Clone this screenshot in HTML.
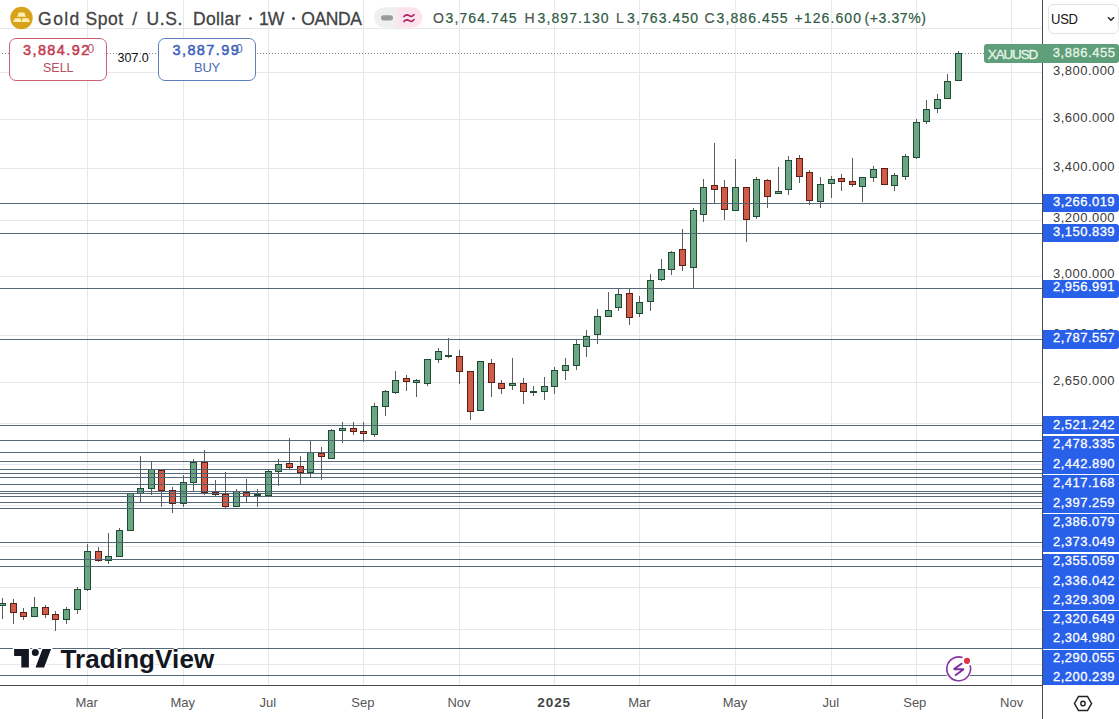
<!DOCTYPE html>
<html><head><meta charset="utf-8">
<style>
*{margin:0;padding:0;box-sizing:border-box}
html,body{width:1119px;height:719px;overflow:hidden;background:#fff;font-family:"Liberation Sans",sans-serif}
#c{position:absolute;left:0;top:0}
.abs{position:absolute;white-space:nowrap}
.pl{position:absolute;left:1043px;width:72px;text-align:right;font-size:13px;line-height:16px;color:#3a3a3a;letter-spacing:0.45px}
.bx{position:absolute;left:1043px;width:76px;background:#2860ea}
.bt{position:absolute;left:1043px;width:72px;text-align:right;font-size:13px;line-height:16px;color:#fff;letter-spacing:0.45px;-webkit-text-stroke:0.3px #fff;white-space:nowrap}
.bl{position:absolute;left:1043px;width:76px;background:#2860ea;-webkit-text-stroke:0.3px #fff;color:#fff;font-size:13px;text-align:right;padding-right:4px;border-radius:0 3px 3px 0;letter-spacing:0.45px}
.bg{position:absolute;left:1043px;width:76px;background:#2860ea;-webkit-text-stroke:0.3px #fff;color:#fff;font-size:13px;text-align:right;padding-right:4px;letter-spacing:0.45px}
.tl{position:absolute;top:695px;width:80px;text-align:center;font-size:13px;line-height:16px;color:#555}
.ohlc{position:absolute;top:9px;font-size:14px;line-height:18px;color:#2f5a43;letter-spacing:1.1px;white-space:nowrap;-webkit-text-stroke:0.2px #2f5a43}
.ttl{position:absolute;top:8px;font-size:17.5px;line-height:22px;color:#434343;white-space:nowrap;-webkit-text-stroke:0.3px #434343}
.yr{font-weight:bold;color:#444;font-size:13.5px;letter-spacing:0.9px;top:694.5px}
</style></head><body>
<svg id="c" width="1119" height="719" shape-rendering="crispEdges">
<rect x="87" y="0" width="1" height="685" fill="#e7e8eb"/>
<rect x="183" y="0" width="1" height="685" fill="#e7e8eb"/>
<rect x="268" y="0" width="1" height="685" fill="#e7e8eb"/>
<rect x="363" y="0" width="1" height="685" fill="#e7e8eb"/>
<rect x="459" y="0" width="1" height="685" fill="#e7e8eb"/>
<rect x="554" y="0" width="1" height="685" fill="#e7e8eb"/>
<rect x="639" y="0" width="1" height="685" fill="#e7e8eb"/>
<rect x="735" y="0" width="1" height="685" fill="#e7e8eb"/>
<rect x="831" y="0" width="1" height="685" fill="#e7e8eb"/>
<rect x="916" y="0" width="1" height="685" fill="#e7e8eb"/>
<rect x="1011" y="0" width="1" height="685" fill="#e7e8eb"/>
<rect x="0" y="28" width="1042" height="1" fill="#e7e8eb"/>
<rect x="0" y="72" width="1042" height="1" fill="#e7e8eb"/>
<rect x="0" y="119" width="1042" height="1" fill="#e7e8eb"/>
<rect x="0" y="168" width="1042" height="1" fill="#e7e8eb"/>
<rect x="0" y="220" width="1042" height="1" fill="#e7e8eb"/>
<rect x="0" y="276" width="1042" height="1" fill="#e7e8eb"/>
<rect x="0" y="335" width="1042" height="1" fill="#e7e8eb"/>
<rect x="0" y="382" width="1042" height="1" fill="#e7e8eb"/>
<rect x="0" y="423" width="1042" height="1" fill="#e7e8eb"/>
<rect x="0" y="464" width="1042" height="1" fill="#e7e8eb"/>
<rect x="0" y="505" width="1042" height="1" fill="#e7e8eb"/>
<rect x="0" y="546" width="1042" height="1" fill="#e7e8eb"/>
<rect x="0" y="587" width="1042" height="1" fill="#e7e8eb"/>
<rect x="0" y="629" width="1042" height="1" fill="#e7e8eb"/>
<rect x="0" y="664" width="1042" height="1" fill="#e7e8eb"/>
<line x1="-1" y1="53.5" x2="984" y2="53.5" stroke="#8a8a8a" stroke-width="1" stroke-dasharray="1 2"/>
<rect x="2" y="598" width="1" height="21" fill="#5d5d5d"/>
<rect x="13" y="599" width="1" height="25" fill="#5d5d5d"/>
<rect x="23" y="608" width="1" height="12" fill="#5d5d5d"/>
<rect x="34" y="597" width="1" height="20" fill="#5d5d5d"/>
<rect x="45" y="605" width="1" height="13" fill="#5d5d5d"/>
<rect x="55" y="611" width="1" height="20" fill="#5d5d5d"/>
<rect x="66" y="607" width="1" height="17" fill="#5d5d5d"/>
<rect x="77" y="587" width="1" height="27" fill="#5d5d5d"/>
<rect x="87" y="544" width="1" height="47" fill="#5d5d5d"/>
<rect x="98" y="547" width="1" height="15" fill="#5d5d5d"/>
<rect x="108" y="533" width="1" height="31" fill="#5d5d5d"/>
<rect x="119" y="528" width="1" height="29" fill="#5d5d5d"/>
<rect x="130" y="493" width="1" height="38" fill="#5d5d5d"/>
<rect x="140" y="456" width="1" height="47" fill="#5d5d5d"/>
<rect x="151" y="462" width="1" height="33" fill="#5d5d5d"/>
<rect x="161" y="470" width="1" height="37" fill="#5d5d5d"/>
<rect x="172" y="487" width="1" height="26" fill="#5d5d5d"/>
<rect x="183" y="475" width="1" height="32" fill="#5d5d5d"/>
<rect x="193" y="459" width="1" height="32" fill="#5d5d5d"/>
<rect x="204" y="450" width="1" height="45" fill="#5d5d5d"/>
<rect x="215" y="480" width="1" height="16" fill="#5d5d5d"/>
<rect x="225" y="472" width="1" height="36" fill="#5d5d5d"/>
<rect x="236" y="489" width="1" height="18" fill="#5d5d5d"/>
<rect x="246" y="479" width="1" height="24" fill="#5d5d5d"/>
<rect x="257" y="489" width="1" height="18" fill="#5d5d5d"/>
<rect x="268" y="469" width="1" height="27" fill="#5d5d5d"/>
<rect x="278" y="459" width="1" height="27" fill="#5d5d5d"/>
<rect x="289" y="438" width="1" height="31" fill="#5d5d5d"/>
<rect x="300" y="456" width="1" height="28" fill="#5d5d5d"/>
<rect x="310" y="441" width="1" height="37" fill="#5d5d5d"/>
<rect x="321" y="447" width="1" height="33" fill="#5d5d5d"/>
<rect x="331" y="429" width="1" height="30" fill="#5d5d5d"/>
<rect x="342" y="422" width="1" height="21" fill="#5d5d5d"/>
<rect x="353" y="422" width="1" height="13" fill="#5d5d5d"/>
<rect x="363" y="422" width="1" height="20" fill="#5d5d5d"/>
<rect x="374" y="403" width="1" height="34" fill="#5d5d5d"/>
<rect x="385" y="390" width="1" height="26" fill="#5d5d5d"/>
<rect x="395" y="371" width="1" height="23" fill="#5d5d5d"/>
<rect x="406" y="375" width="1" height="16" fill="#5d5d5d"/>
<rect x="416" y="379" width="1" height="18" fill="#5d5d5d"/>
<rect x="427" y="359" width="1" height="27" fill="#5d5d5d"/>
<rect x="438" y="348" width="1" height="15" fill="#5d5d5d"/>
<rect x="448" y="338" width="1" height="20" fill="#5d5d5d"/>
<rect x="459" y="350" width="1" height="34" fill="#5d5d5d"/>
<rect x="470" y="371" width="1" height="49" fill="#5d5d5d"/>
<rect x="480" y="361" width="1" height="50" fill="#5d5d5d"/>
<rect x="491" y="359" width="1" height="38" fill="#5d5d5d"/>
<rect x="501" y="380" width="1" height="14" fill="#5d5d5d"/>
<rect x="512" y="358" width="1" height="32" fill="#5d5d5d"/>
<rect x="523" y="378" width="1" height="26" fill="#5d5d5d"/>
<rect x="533" y="386" width="1" height="10" fill="#5d5d5d"/>
<rect x="544" y="377" width="1" height="23" fill="#5d5d5d"/>
<rect x="554" y="367" width="1" height="27" fill="#5d5d5d"/>
<rect x="565" y="358" width="1" height="22" fill="#5d5d5d"/>
<rect x="576" y="340" width="1" height="30" fill="#5d5d5d"/>
<rect x="586" y="330" width="1" height="27" fill="#5d5d5d"/>
<rect x="597" y="309" width="1" height="35" fill="#5d5d5d"/>
<rect x="608" y="292" width="1" height="25" fill="#5d5d5d"/>
<rect x="618" y="289" width="1" height="22" fill="#5d5d5d"/>
<rect x="629" y="289" width="1" height="36" fill="#5d5d5d"/>
<rect x="639" y="296" width="1" height="21" fill="#5d5d5d"/>
<rect x="650" y="274" width="1" height="37" fill="#5d5d5d"/>
<rect x="661" y="259" width="1" height="22" fill="#5d5d5d"/>
<rect x="671" y="251" width="1" height="24" fill="#5d5d5d"/>
<rect x="682" y="229" width="1" height="42" fill="#5d5d5d"/>
<rect x="693" y="208" width="1" height="81" fill="#5d5d5d"/>
<rect x="703" y="179" width="1" height="43" fill="#5d5d5d"/>
<rect x="714" y="143" width="1" height="60" fill="#5d5d5d"/>
<rect x="724" y="180" width="1" height="40" fill="#5d5d5d"/>
<rect x="735" y="159" width="1" height="52" fill="#5d5d5d"/>
<rect x="746" y="187" width="1" height="55" fill="#5d5d5d"/>
<rect x="756" y="177" width="1" height="42" fill="#5d5d5d"/>
<rect x="767" y="179" width="1" height="29" fill="#5d5d5d"/>
<rect x="778" y="167" width="1" height="27" fill="#5d5d5d"/>
<rect x="788" y="156" width="1" height="39" fill="#5d5d5d"/>
<rect x="799" y="155" width="1" height="28" fill="#5d5d5d"/>
<rect x="809" y="170" width="1" height="35" fill="#5d5d5d"/>
<rect x="820" y="177" width="1" height="31" fill="#5d5d5d"/>
<rect x="831" y="176" width="1" height="22" fill="#5d5d5d"/>
<rect x="841" y="174" width="1" height="17" fill="#5d5d5d"/>
<rect x="852" y="158" width="1" height="29" fill="#5d5d5d"/>
<rect x="862" y="177" width="1" height="25" fill="#5d5d5d"/>
<rect x="873" y="166" width="1" height="16" fill="#5d5d5d"/>
<rect x="884" y="168" width="1" height="17" fill="#5d5d5d"/>
<rect x="894" y="173" width="1" height="18" fill="#5d5d5d"/>
<rect x="905" y="154" width="1" height="26" fill="#5d5d5d"/>
<rect x="916" y="119" width="1" height="40" fill="#5d5d5d"/>
<rect x="926" y="100" width="1" height="24" fill="#5d5d5d"/>
<rect x="937" y="94" width="1" height="19" fill="#5d5d5d"/>
<rect x="947" y="74" width="1" height="25" fill="#5d5d5d"/>
<rect x="958" y="51" width="1" height="30" fill="#5d5d5d"/>
<rect x="-1" y="603" width="7" height="3" fill="#1f4a34"/>
<rect x="0" y="604" width="5" height="1" fill="#6ba584"/>
<rect x="10" y="603" width="7" height="10" fill="#5c1e15"/>
<rect x="11" y="604" width="5" height="8" fill="#cf5b49"/>
<rect x="20" y="612" width="7" height="5" fill="#5c1e15"/>
<rect x="21" y="613" width="5" height="3" fill="#cf5b49"/>
<rect x="31" y="607" width="7" height="10" fill="#1f4a34"/>
<rect x="32" y="608" width="5" height="8" fill="#6ba584"/>
<rect x="42" y="607" width="7" height="8" fill="#5c1e15"/>
<rect x="43" y="608" width="5" height="6" fill="#cf5b49"/>
<rect x="52" y="614" width="7" height="6" fill="#5c1e15"/>
<rect x="53" y="615" width="5" height="4" fill="#cf5b49"/>
<rect x="63" y="609" width="7" height="11" fill="#1f4a34"/>
<rect x="64" y="610" width="5" height="9" fill="#6ba584"/>
<rect x="74" y="589" width="7" height="21" fill="#1f4a34"/>
<rect x="75" y="590" width="5" height="19" fill="#6ba584"/>
<rect x="84" y="551" width="7" height="39" fill="#1f4a34"/>
<rect x="85" y="552" width="5" height="37" fill="#6ba584"/>
<rect x="95" y="551" width="7" height="10" fill="#5c1e15"/>
<rect x="96" y="552" width="5" height="8" fill="#cf5b49"/>
<rect x="105" y="556" width="7" height="5" fill="#1f4a34"/>
<rect x="106" y="557" width="5" height="3" fill="#6ba584"/>
<rect x="116" y="530" width="7" height="27" fill="#1f4a34"/>
<rect x="117" y="531" width="5" height="25" fill="#6ba584"/>
<rect x="127" y="493" width="7" height="38" fill="#1f4a34"/>
<rect x="128" y="494" width="5" height="36" fill="#6ba584"/>
<rect x="137" y="488" width="7" height="6" fill="#1f4a34"/>
<rect x="138" y="489" width="5" height="4" fill="#6ba584"/>
<rect x="148" y="469" width="7" height="20" fill="#1f4a34"/>
<rect x="149" y="470" width="5" height="18" fill="#6ba584"/>
<rect x="158" y="470" width="7" height="21" fill="#5c1e15"/>
<rect x="159" y="471" width="5" height="19" fill="#cf5b49"/>
<rect x="169" y="490" width="7" height="14" fill="#5c1e15"/>
<rect x="170" y="491" width="5" height="12" fill="#cf5b49"/>
<rect x="180" y="482" width="7" height="22" fill="#1f4a34"/>
<rect x="181" y="483" width="5" height="20" fill="#6ba584"/>
<rect x="190" y="462" width="7" height="21" fill="#1f4a34"/>
<rect x="191" y="463" width="5" height="19" fill="#6ba584"/>
<rect x="201" y="462" width="7" height="31" fill="#5c1e15"/>
<rect x="202" y="463" width="5" height="29" fill="#cf5b49"/>
<rect x="212" y="492" width="7" height="3" fill="#5c1e15"/>
<rect x="213" y="493" width="5" height="1" fill="#cf5b49"/>
<rect x="222" y="494" width="7" height="13" fill="#5c1e15"/>
<rect x="223" y="495" width="5" height="11" fill="#cf5b49"/>
<rect x="233" y="491" width="7" height="16" fill="#1f4a34"/>
<rect x="234" y="492" width="5" height="14" fill="#6ba584"/>
<rect x="243" y="492" width="7" height="5" fill="#5c1e15"/>
<rect x="244" y="493" width="5" height="3" fill="#cf5b49"/>
<rect x="254" y="494" width="7" height="2" fill="#1f4a34"/>
<rect x="265" y="471" width="7" height="25" fill="#1f4a34"/>
<rect x="266" y="472" width="5" height="23" fill="#6ba584"/>
<rect x="275" y="464" width="7" height="8" fill="#1f4a34"/>
<rect x="276" y="465" width="5" height="6" fill="#6ba584"/>
<rect x="286" y="463" width="7" height="5" fill="#5c1e15"/>
<rect x="287" y="464" width="5" height="3" fill="#cf5b49"/>
<rect x="297" y="466" width="7" height="7" fill="#5c1e15"/>
<rect x="298" y="467" width="5" height="5" fill="#cf5b49"/>
<rect x="307" y="452" width="7" height="21" fill="#1f4a34"/>
<rect x="308" y="453" width="5" height="19" fill="#6ba584"/>
<rect x="318" y="453" width="7" height="4" fill="#5c1e15"/>
<rect x="319" y="454" width="5" height="2" fill="#cf5b49"/>
<rect x="328" y="430" width="7" height="29" fill="#1f4a34"/>
<rect x="329" y="431" width="5" height="27" fill="#6ba584"/>
<rect x="339" y="428" width="7" height="3" fill="#1f4a34"/>
<rect x="340" y="429" width="5" height="1" fill="#6ba584"/>
<rect x="350" y="428" width="7" height="4" fill="#5c1e15"/>
<rect x="351" y="429" width="5" height="2" fill="#cf5b49"/>
<rect x="360" y="431" width="7" height="3" fill="#5c1e15"/>
<rect x="361" y="432" width="5" height="1" fill="#cf5b49"/>
<rect x="371" y="406" width="7" height="29" fill="#1f4a34"/>
<rect x="372" y="407" width="5" height="27" fill="#6ba584"/>
<rect x="382" y="391" width="7" height="16" fill="#1f4a34"/>
<rect x="383" y="392" width="5" height="14" fill="#6ba584"/>
<rect x="392" y="380" width="7" height="13" fill="#1f4a34"/>
<rect x="393" y="381" width="5" height="11" fill="#6ba584"/>
<rect x="403" y="378" width="7" height="4" fill="#5c1e15"/>
<rect x="404" y="379" width="5" height="2" fill="#cf5b49"/>
<rect x="413" y="380" width="7" height="3" fill="#1f4a34"/>
<rect x="414" y="381" width="5" height="1" fill="#6ba584"/>
<rect x="424" y="359" width="7" height="25" fill="#1f4a34"/>
<rect x="425" y="360" width="5" height="23" fill="#6ba584"/>
<rect x="435" y="351" width="7" height="9" fill="#1f4a34"/>
<rect x="436" y="352" width="5" height="7" fill="#6ba584"/>
<rect x="445" y="355" width="7" height="2" fill="#1f4a34"/>
<rect x="456" y="356" width="7" height="16" fill="#5c1e15"/>
<rect x="457" y="357" width="5" height="14" fill="#cf5b49"/>
<rect x="467" y="371" width="7" height="41" fill="#5c1e15"/>
<rect x="468" y="372" width="5" height="39" fill="#cf5b49"/>
<rect x="477" y="361" width="7" height="50" fill="#1f4a34"/>
<rect x="478" y="362" width="5" height="48" fill="#6ba584"/>
<rect x="488" y="363" width="7" height="20" fill="#5c1e15"/>
<rect x="489" y="364" width="5" height="18" fill="#cf5b49"/>
<rect x="498" y="383" width="7" height="6" fill="#5c1e15"/>
<rect x="499" y="384" width="5" height="4" fill="#cf5b49"/>
<rect x="509" y="383" width="7" height="3" fill="#1f4a34"/>
<rect x="510" y="384" width="5" height="1" fill="#6ba584"/>
<rect x="520" y="383" width="7" height="9" fill="#5c1e15"/>
<rect x="521" y="384" width="5" height="7" fill="#cf5b49"/>
<rect x="530" y="391" width="7" height="2" fill="#1f4a34"/>
<rect x="541" y="386" width="7" height="6" fill="#1f4a34"/>
<rect x="542" y="387" width="5" height="4" fill="#6ba584"/>
<rect x="551" y="370" width="7" height="17" fill="#1f4a34"/>
<rect x="552" y="371" width="5" height="15" fill="#6ba584"/>
<rect x="562" y="365" width="7" height="6" fill="#1f4a34"/>
<rect x="563" y="366" width="5" height="4" fill="#6ba584"/>
<rect x="573" y="344" width="7" height="22" fill="#1f4a34"/>
<rect x="574" y="345" width="5" height="20" fill="#6ba584"/>
<rect x="583" y="336" width="7" height="11" fill="#1f4a34"/>
<rect x="584" y="337" width="5" height="9" fill="#6ba584"/>
<rect x="594" y="316" width="7" height="19" fill="#1f4a34"/>
<rect x="595" y="317" width="5" height="17" fill="#6ba584"/>
<rect x="605" y="310" width="7" height="7" fill="#1f4a34"/>
<rect x="606" y="311" width="5" height="5" fill="#6ba584"/>
<rect x="615" y="294" width="7" height="14" fill="#1f4a34"/>
<rect x="616" y="295" width="5" height="12" fill="#6ba584"/>
<rect x="626" y="293" width="7" height="25" fill="#5c1e15"/>
<rect x="627" y="294" width="5" height="23" fill="#cf5b49"/>
<rect x="636" y="302" width="7" height="12" fill="#1f4a34"/>
<rect x="637" y="303" width="5" height="10" fill="#6ba584"/>
<rect x="647" y="280" width="7" height="22" fill="#1f4a34"/>
<rect x="648" y="281" width="5" height="20" fill="#6ba584"/>
<rect x="658" y="269" width="7" height="11" fill="#1f4a34"/>
<rect x="659" y="270" width="5" height="9" fill="#6ba584"/>
<rect x="668" y="252" width="7" height="18" fill="#1f4a34"/>
<rect x="669" y="253" width="5" height="16" fill="#6ba584"/>
<rect x="679" y="249" width="7" height="17" fill="#5c1e15"/>
<rect x="680" y="250" width="5" height="15" fill="#cf5b49"/>
<rect x="690" y="210" width="7" height="58" fill="#1f4a34"/>
<rect x="691" y="211" width="5" height="56" fill="#6ba584"/>
<rect x="700" y="187" width="7" height="28" fill="#1f4a34"/>
<rect x="701" y="188" width="5" height="26" fill="#6ba584"/>
<rect x="711" y="185" width="7" height="5" fill="#5c1e15"/>
<rect x="712" y="186" width="5" height="3" fill="#cf5b49"/>
<rect x="721" y="187" width="7" height="23" fill="#5c1e15"/>
<rect x="722" y="188" width="5" height="21" fill="#cf5b49"/>
<rect x="732" y="187" width="7" height="24" fill="#1f4a34"/>
<rect x="733" y="188" width="5" height="22" fill="#6ba584"/>
<rect x="743" y="187" width="7" height="33" fill="#5c1e15"/>
<rect x="744" y="188" width="5" height="31" fill="#cf5b49"/>
<rect x="753" y="179" width="7" height="38" fill="#1f4a34"/>
<rect x="754" y="180" width="5" height="36" fill="#6ba584"/>
<rect x="764" y="180" width="7" height="17" fill="#5c1e15"/>
<rect x="765" y="181" width="5" height="15" fill="#cf5b49"/>
<rect x="775" y="191" width="7" height="3" fill="#1f4a34"/>
<rect x="776" y="192" width="5" height="1" fill="#6ba584"/>
<rect x="785" y="160" width="7" height="30" fill="#1f4a34"/>
<rect x="786" y="161" width="5" height="28" fill="#6ba584"/>
<rect x="796" y="158" width="7" height="19" fill="#5c1e15"/>
<rect x="797" y="159" width="5" height="17" fill="#cf5b49"/>
<rect x="806" y="172" width="7" height="29" fill="#5c1e15"/>
<rect x="807" y="173" width="5" height="27" fill="#cf5b49"/>
<rect x="817" y="184" width="7" height="18" fill="#1f4a34"/>
<rect x="818" y="185" width="5" height="16" fill="#6ba584"/>
<rect x="828" y="179" width="7" height="5" fill="#1f4a34"/>
<rect x="829" y="180" width="5" height="3" fill="#6ba584"/>
<rect x="838" y="178" width="7" height="4" fill="#5c1e15"/>
<rect x="839" y="179" width="5" height="2" fill="#cf5b49"/>
<rect x="849" y="181" width="7" height="4" fill="#5c1e15"/>
<rect x="850" y="182" width="5" height="2" fill="#cf5b49"/>
<rect x="859" y="177" width="7" height="10" fill="#1f4a34"/>
<rect x="860" y="178" width="5" height="8" fill="#6ba584"/>
<rect x="870" y="169" width="7" height="9" fill="#1f4a34"/>
<rect x="871" y="170" width="5" height="7" fill="#6ba584"/>
<rect x="881" y="168" width="7" height="17" fill="#5c1e15"/>
<rect x="882" y="169" width="5" height="15" fill="#cf5b49"/>
<rect x="891" y="175" width="7" height="11" fill="#1f4a34"/>
<rect x="892" y="176" width="5" height="9" fill="#6ba584"/>
<rect x="902" y="156" width="7" height="21" fill="#1f4a34"/>
<rect x="903" y="157" width="5" height="19" fill="#6ba584"/>
<rect x="913" y="122" width="7" height="36" fill="#1f4a34"/>
<rect x="914" y="123" width="5" height="34" fill="#6ba584"/>
<rect x="923" y="109" width="7" height="13" fill="#1f4a34"/>
<rect x="924" y="110" width="5" height="11" fill="#6ba584"/>
<rect x="934" y="99" width="7" height="10" fill="#1f4a34"/>
<rect x="935" y="100" width="5" height="8" fill="#6ba584"/>
<rect x="944" y="81" width="7" height="18" fill="#1f4a34"/>
<rect x="945" y="82" width="5" height="16" fill="#6ba584"/>
<rect x="955" y="53" width="7" height="28" fill="#1f4a34"/>
<rect x="956" y="54" width="5" height="26" fill="#6ba584"/>
<rect x="0" y="203" width="1042" height="1" fill="#4c6272" opacity="0.95"/>
<rect x="0" y="233" width="1042" height="1" fill="#4c6272" opacity="0.95"/>
<rect x="0" y="288" width="1042" height="1" fill="#4c6272" opacity="0.95"/>
<rect x="0" y="339" width="1042" height="1" fill="#4c6272" opacity="0.95"/>
<rect x="0" y="425" width="1042" height="1" fill="#4c6272" opacity="0.95"/>
<rect x="0" y="440" width="1042" height="1" fill="#4c6272" opacity="0.95"/>
<rect x="0" y="452" width="1042" height="1" fill="#4c6272" opacity="0.95"/>
<rect x="0" y="461" width="1042" height="1" fill="#4c6272" opacity="0.95"/>
<rect x="0" y="469" width="1042" height="1" fill="#4c6272" opacity="0.95"/>
<rect x="0" y="473" width="1042" height="1" fill="#4c6272" opacity="0.95"/>
<rect x="0" y="477" width="1042" height="1" fill="#4c6272" opacity="0.95"/>
<rect x="0" y="484" width="1042" height="1" fill="#4c6272" opacity="0.95"/>
<rect x="0" y="491" width="1042" height="1" fill="#4c6272" opacity="0.95"/>
<rect x="0" y="493" width="1042" height="1" fill="#4c6272" opacity="0.95"/>
<rect x="0" y="496" width="1042" height="1" fill="#4c6272" opacity="0.95"/>
<rect x="0" y="502" width="1042" height="1" fill="#4c6272" opacity="0.95"/>
<rect x="0" y="508" width="1042" height="1" fill="#4c6272" opacity="0.95"/>
<rect x="0" y="542" width="1042" height="1" fill="#4c6272" opacity="0.95"/>
<rect x="0" y="559" width="1042" height="1" fill="#4c6272" opacity="0.95"/>
<rect x="0" y="566" width="1042" height="1" fill="#4c6272" opacity="0.95"/>
<rect x="0" y="648" width="1042" height="1" fill="#4c6272" opacity="0.95"/>
<rect x="0" y="675" width="1042" height="1" fill="#4c6272" opacity="0.95"/>
<rect x="1042" y="0" width="1" height="719" fill="#4a4a4a"/>
<rect x="0" y="685" width="1042" height="1" fill="#4a4a4a"/>
</svg>
<!-- header -->
<svg class="abs" style="left:10px;top:6px" width="24" height="24" viewBox="0 0 24 24">
<circle cx="11.5" cy="12" r="11.2" fill="#d9a21b"/>
<path d="M8.8 6.6h5.5l1.6 4.2h-8.7z M5 12.2h5.4l1.6 3.7H3z M12.3 12.2h5.9l1.9 3.7h-8.1z" fill="#fff0b0"/>
</svg>
<div class="ttl" style="left:38.1px;letter-spacing:1.43px">Gold</div><div class="ttl" style="left:85.4px;letter-spacing:0.6px">Spot</div><div class="ttl" style="left:132.3px;letter-spacing:0px">/</div><div class="ttl" style="left:146.5px;letter-spacing:0.57px">U.S.</div><div class="ttl" style="left:193px;letter-spacing:0.36px">Dollar</div><div class="abs" style="left:249.3px;top:17.3px;width:3.2px;height:3.2px;border-radius:50%;background:#444"></div><div class="ttl" style="left:259px;letter-spacing:-1.05px">1W</div><div class="abs" style="left:291.5px;top:17.3px;width:3.2px;height:3.2px;border-radius:50%;background:#444"></div><div class="ttl" style="left:301.2px;letter-spacing:-0.35px">OANDA</div>
<svg class="abs" style="left:370px;top:4px" width="58" height="28" viewBox="370 4 58 28"><defs><clipPath id="pc"><rect x="374" y="7.2" width="48.5" height="20.6" rx="10.3"/></clipPath></defs><g clip-path="url(#pc)"><rect x="370" y="4" width="28" height="28" fill="#efefef"/><rect x="397.5" y="4" width="30" height="28" fill="#fce3ed"/></g><rect x="381" y="15.2" width="12" height="5.2" rx="2.6" fill="#9b9b9b"/><path d="M404 16.6c1.8-2.4 3.6-2 5.2-1s3.3 1.2 4.8-1 M404 21.6c1.8-2.4 3.6-2 5.2-1s3.3 1.2 4.8-1" fill="none" stroke="#a81d5d" stroke-width="1.65" stroke-linecap="round"/></svg>
<div class="ohlc" style="left:433px;color:#555">O</div><div class="ohlc" style="left:445.5px;">3,764.745</div>
<div class="ohlc" style="left:524.5px;color:#555">H</div><div class="ohlc" style="left:537.5px;">3,897.130</div>
<div class="ohlc" style="left:616px;color:#555">L</div><div class="ohlc" style="left:627px;">3,763.450</div>
<div class="ohlc" style="left:704.5px;color:#555">C</div><div class="ohlc" style="left:716.5px;">3,886.455</div>
<div class="ohlc" style="left:794.5px;">+126.600</div><div class="ohlc" style="left:864.5px;letter-spacing:0.6px">(+3.37%)</div>
<!-- sell / buy -->
<div class="abs" style="left:9px;top:38px;width:98px;height:43px;border:1px solid #c8626e;border-radius:7px;background:#fff"></div>
<div class="abs" style="left:23px;top:42px;font-size:14.5px;line-height:16px;color:#c23b50;letter-spacing:1.4px;-webkit-text-stroke:0.5px #c23b50">3,884.92</div>
<div class="abs" style="left:87.5px;top:42px;font-size:12px;line-height:14px;color:#b5505e">0</div>
<div class="abs" style="left:42.5px;top:60px;font-size:13.5px;line-height:16px;color:#b5505e;letter-spacing:0px;transform:scaleX(0.925);transform-origin:0 0">SELL</div>
<div class="abs" style="left:117.5px;top:50.5px;font-size:12.5px;line-height:14px;color:#111">307.0</div>
<div class="abs" style="left:158px;top:38px;width:98px;height:43px;border:1px solid #5b7fbf;border-radius:7px;background:#fff"></div>
<div class="abs" style="left:172.5px;top:42px;font-size:14.5px;line-height:16px;color:#3e5fb8;letter-spacing:1.4px;-webkit-text-stroke:0.5px #3e5fb8">3,887.99</div>
<div class="abs" style="left:236px;top:42px;font-size:12px;line-height:14px;color:#4a6db5">0</div>
<div class="abs" style="left:194px;top:60px;font-size:13.5px;line-height:16px;color:#4a6db5;letter-spacing:-0.2px;transform:scaleX(0.96);transform-origin:0 0">BUY</div>
<!-- right axis -->
<div class="abs" style="left:1048px;top:4px;width:71px;height:30px;border:1px solid #e3e3e3;border-radius:6px;background:#fff">
 <div style="position:absolute;left:2px;top:5px;font-size:15px;line-height:17px;color:#131313;letter-spacing:-0.3px;transform:scaleX(0.87);transform-origin:0 0">USD</div>
 <svg style="position:absolute;left:57.5px;top:11px" width="8" height="6" viewBox="0 0 8 6"><path d="M1 1.2l3 3 3-3" stroke="#222" stroke-width="1.5" fill="none"/></svg>
</div>
<div class="pl" style="top:62.8px">3,800.000</div>
<div class="pl" style="top:109.9px">3,600.000</div>
<div class="pl" style="top:158.7px">3,400.000</div>
<div class="pl" style="top:210.1px">3,200.000</div>
<div class="pl" style="top:266.4px">3,000.000</div>
<div class="pl" style="top:325.5px">2,800.000</div>
<div class="pl" style="top:372.6px">2,650.000</div>
<div class="bx" style="top:194.3px;height:18.0px;border-radius:0 3px 3px 0"></div>
<div class="bx" style="top:224.4px;height:18.1px;border-radius:0 3px 3px 0"></div>
<div class="bx" style="top:279.5px;height:18.0px;border-radius:0 3px 3px 0"></div>
<div class="bx" style="top:330.3px;height:18.4px;border-radius:0 3px 3px 0"></div>
<div class="bx" style="top:416.1px;height:18.3px"></div>
<div class="bx" style="top:435.6px;height:38.4px"></div>
<div class="bx" style="top:475.2px;height:37.4px"></div>
<div class="bx" style="top:514.0px;height:38.4px"></div>
<div class="bx" style="top:553.6px;height:56.2px"></div>
<div class="bx" style="top:611.2px;height:37.5px"></div>
<div class="bx" style="top:649.8px;height:35.2px"></div>
<div class="bt" style="top:416.6px">2,521.242</div>
<div class="bt" style="top:436.1px">2,478.335</div>
<div class="bt" style="top:455.6px">2,442.890</div>
<div class="bt" style="top:474.8px">2,417.168</div>
<div class="bt" style="top:494.7px">2,397.259</div>
<div class="bt" style="top:514.4px">2,386.079</div>
<div class="bt" style="top:533.5px">2,373.049</div>
<div class="bt" style="top:553.4px">2,355.059</div>
<div class="bt" style="top:572.5px">2,336.042</div>
<div class="bt" style="top:591.6px">2,329.309</div>
<div class="bt" style="top:611.2px">2,320.649</div>
<div class="bt" style="top:630.0px">2,304.980</div>
<div class="bt" style="top:649.9px">2,290.055</div>
<div class="bt" style="top:668.6px">2,200.239</div>
<div class="bt" style="top:194.0px">3,266.019</div>
<div class="bt" style="top:223.9px">3,150.839</div>
<div class="bt" style="top:278.9px">2,956.991</div>
<div class="bt" style="top:330.3px">2,787.557</div>
<div class="abs" style="left:984px;top:44px;width:59px;height:19px;background:#5f9e7b;border-radius:3px 0 0 3px;color:#e6f6e6;font-size:13.5px;line-height:21px;text-align:center;letter-spacing:-1.15px;text-indent:-2px;-webkit-text-stroke:0.3px #e6f6e6">XAUUSD</div>
<div class="abs" style="left:1042px;top:44px;width:77px;height:19px;background:#5f9e7b;border-radius:0 3px 3px 0;color:#e6f6e6;font-size:13px;line-height:17px;text-align:right;padding-right:3.5px;letter-spacing:0.55px;-webkit-text-stroke:0.3px #e6f6e6">3,886.455</div>
<!-- time axis -->
<div class="tl" style="left:46.6px">Mar</div>
<div class="tl" style="left:142.7px">May</div>
<div class="tl" style="left:227.8px">Jul</div>
<div class="tl" style="left:322.9px">Sep</div>
<div class="tl" style="left:419.0px">Nov</div>
<div class="tl yr" style="left:514.2px">2025</div>
<div class="tl" style="left:599.4px">Mar</div>
<div class="tl" style="left:695.0px">May</div>
<div class="tl" style="left:790.8px">Jul</div>
<div class="tl" style="left:874.8px">Sep</div>
<div class="tl" style="left:971.6px">Nov</div>
<svg class="abs" style="left:1073px;top:695px" width="20" height="17" viewBox="0 0 20 17"><path d="M5.5 1.5h9l4 7-4 7h-9l-4-7z" fill="none" stroke="#222" stroke-width="1.5"/><circle cx="10" cy="8.5" r="2.2" fill="none" stroke="#222" stroke-width="1.4"/></svg>
<!-- logo -->
<svg class="abs" style="left:0;top:640px" width="60" height="34" viewBox="0 640 60 34"><g fill="#131722" stroke="#fff" stroke-width="3" paint-order="stroke" stroke-linejoin="round"><path d="M14.1 648.9H28.9V667.4H21.3V655.9H14.1z M42.5 648.9H51.1L44.1 667.4H35.5z"/><circle cx="35.3" cy="652.4" r="3.5"/></g></svg>
<div class="abs" style="left:60.5px;top:644.5px;font-size:26px;line-height:28px;font-weight:bold;color:#131722;letter-spacing:0.1px;text-shadow:1px 0 0 #fff,-1px 0 0 #fff,0 1px 0 #fff,0 -1px 0 #fff">TradingView</div>
<!-- lightning -->
<svg class="abs" style="left:944px;top:654.8px" width="30" height="30" viewBox="0 0 30 30"><circle cx="14.4" cy="14.3" r="13.2" fill="#fff"/><path d="M18.6 2.6 A11.9 11.9 0 1 0 26 10.2" fill="none" stroke="#86389f" stroke-width="1.6"/><polyline points="18.2,8.3 9.8,14.3 19.8,14.3 11,20.5" fill="none" stroke="#7d2c9c" stroke-width="1.9" stroke-linejoin="miter" stroke-miterlimit="3"/><circle cx="23" cy="5.8" r="4.3" fill="#fff"/><circle cx="23" cy="5.8" r="3.1" fill="#dd3545"/></svg>
</body></html>
